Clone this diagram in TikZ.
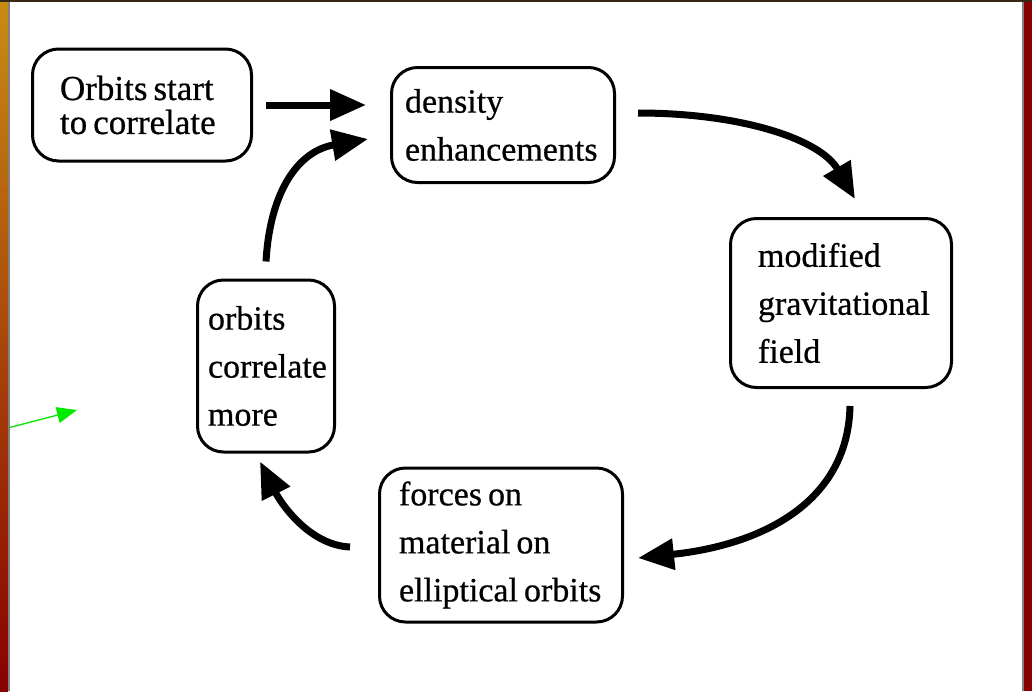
\documentclass[tikz,border=0pt]{standalone}
\usepackage{fontspec}
\setmainfont{Liberation Serif}[FakeBold=0.6]
\usetikzlibrary{arrows.meta}

\definecolor{framegold}{RGB}{200,140,20}
\definecolor{framered}{RGB}{136,0,0}
\definecolor{pointgreen}{RGB}{0,235,0}

\begin{document}
\begin{tikzpicture}[x=1pt,y=-1pt,>=Stealth,
    box/.style={draw,line width=3pt,rounded corners=26pt,align=left,
      inner sep=0pt,font=\fontsize{34}{48}\selectfont,
      execute at begin node={\spaceskip=6pt plus 2pt\relax}},
    flow/.style={line width=7pt,-{Triangle[length=36pt,width=30pt]}},
    pointer/.style={pointgreen,line width=1.3pt,-{Triangle[length=20pt,width=16pt]}}]
\useasboundingbox (0,0) rectangle (1032,691);
\fill[white] (0,0) rectangle (1032,691);
\node[box,minimum width=219pt,minimum height=112pt,text width=164pt,
  font=\fontsize{35}{34}\selectfont] (orbstart) at (142,105) {Orbits start\\to correlate};
\node[box,minimum width=223pt,minimum height=115pt,text width=196pt] (dens) at (503,125) {density\\enhancements};
\node[box,minimum width=221pt,minimum height=169pt,text width=166pt] (grav) at (841,303) {modified\\gravitational\\field};
\node[box,minimum width=243pt,minimum height=154pt,text width=204pt] (forces) at (501,545) {forces on\\material on\\elliptical orbits};
\node[box,minimum width=137pt,minimum height=172pt,text width=116pt] (more) at (266,366) {orbits\\correlate\\more};
\draw[flow] ([xshift=13pt]orbstart.east) -- ([xshift=-24pt]orbstart.east -| dens.west);
\draw[flow] ([yshift=17pt]more.north) .. controls +(4,-70) and +(-70,12) .. ([xshift=-22pt,yshift=-14pt]dens.west);
\draw[flow] ([xshift=22pt,yshift=12pt]dens.east) .. controls +(103,0) and +(-35,-60) .. ([xshift=14pt,yshift=18pt]grav.north);
\draw[flow] ([xshift=9pt,yshift=-17pt]grav.south) .. controls +(-2,97) and +(123,-13) .. ([xshift=14pt,yshift=-13pt]forces.east);
\draw[flow] ([xshift=-28pt,yshift=-2pt]forces.west) .. controls +(-42,-2) and +(20,40) .. ([xshift=-6pt,yshift=-8pt]more.south);
\coordinate (gtail) at (0,430);
\coordinate (ghead) at (77,410);
\draw[pointer] (gtail) -- (ghead);
\shade[top color=framegold,bottom color=framered] (0,0) rectangle (8,691);
\fill[gray] (8,0) rectangle (10,691);
\fill[framered] (1024,0) rectangle (1032,691);
\fill[gray] (1022,0) rectangle (1024,691);
\fill[black!70!brown] (0,0) rectangle (1032,2);
\end{tikzpicture}
\end{document}
